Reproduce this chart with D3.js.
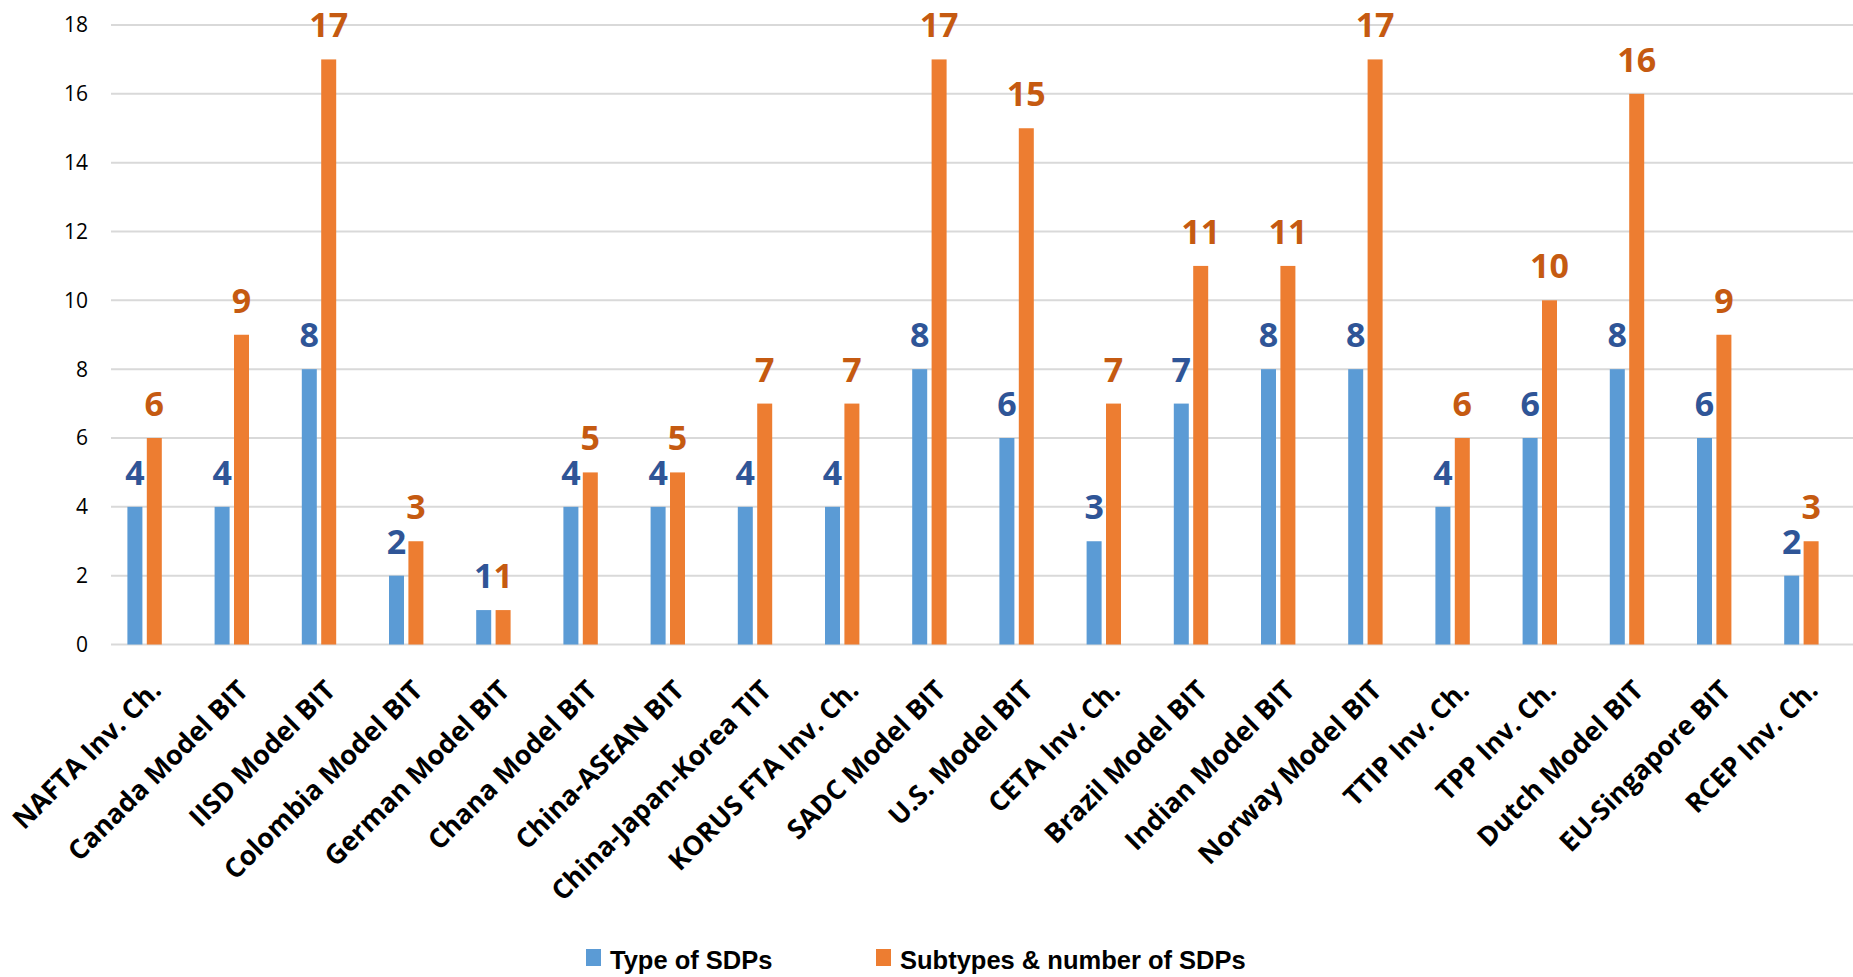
<!DOCTYPE html>
<html>
<head>
<meta charset="utf-8">
<script src="https://cdn.jsdelivr.net/npm/d3@7"></script>
<style>
  html, body { margin: 0; padding: 0; background: #fff; }
  svg { display: block; }
</style>
</head>
<body>
<svg id="chart" width="1853" height="977"></svg>
<script>
// Agreements / model treaties compared
const categories = [
  "NAFTA Inv. Ch.", "Canada Model BIT", "IISD Model BIT", "Colombia Model BIT",
  "German Model BIT", "Chana Model BIT", "China-ASEAN BIT", "China-Japan-Korea TIT",
  "KORUS FTA Inv. Ch.", "SADC Model BIT", "U.S. Model BIT", "CETA Inv. Ch.",
  "Brazil Model BIT", "Indian Model BIT", "Norway Model BIT", "TTIP Inv. Ch.",
  "TPP Inv. Ch.", "Dutch Model BIT", "EU-Singapore BIT", "RCEP Inv. Ch."
];
const seriesNames = ["Type of SDPs", "Subtypes & number of SDPs"];
const typeOfSDPs = [4, 4, 8, 2, 1, 4, 4, 4, 4, 8, 6, 3, 7, 8, 8, 4, 6, 8, 6, 2];
const subtypesSDPs = [6, 9, 17, 3, 1, 5, 5, 7, 7, 17, 15, 7, 11, 11, 17, 6, 10, 16, 9, 3];
const yTicks = [0, 2, 4, 6, 8, 10, 12, 14, 16, 18];

const barColors = ["#5B9BD5", "#ED7D31"];
const labelColors = ["#2F5597", "#C55A11"];
const seriesValues = [typeOfSDPs, subtypesSDPs];

const svg = d3.select("#chart");

const plotLeft = 111, plotRight = 1853;
const y = d3.scaleLinear().domain([0, 18]).range([644.5, 25]);

const x0 = d3.scaleBand().domain(categories).range([101, 1845]).padding(0);
const x1 = d3.scaleBand().domain(seriesNames).range([-17.2, 17.2]).paddingInner(0.227);

// Horizontal gridlines
svg.append("g")
  .selectAll("line")
  .data(yTicks)
  .join("line")
  .attr("x1", plotLeft).attr("x2", plotRight)
  .attr("y1", d => y(d)).attr("y2", d => y(d))
  .attr("stroke", "#D9D9D9")
  .attr("stroke-width", 2);

// Y axis tick labels
svg.append("g")
  .selectAll("text")
  .data(yTicks)
  .join("text")
  .attr("x", 88)
  .attr("y", d => y(d))
  .attr("dy", "0.35em")
  .attr("text-anchor", "end")
  .attr("font-family", "'Open Sans', sans-serif")
  .attr("font-size", 21)
  .attr("fill", "#000")
  .text(d => d);

// Bars and value labels
const groups = svg.append("g")
  .selectAll("g")
  .data(categories)
  .join("g")
  .attr("transform", d => `translate(${x0(d) + x0.bandwidth() / 2},0)`);

seriesNames.forEach((s, si) => {
  groups.append("rect")
    .attr("x", x1(s))
    .attr("width", x1.bandwidth())
    .attr("y", (d, i) => y(seriesValues[si][i]))
    .attr("height", (d, i) => y(0) - y(seriesValues[si][i]))
    .attr("fill", barColors[si]);
});

seriesNames.forEach((s, si) => {
  groups.append("text")
    .attr("x", x1(s) + x1.bandwidth() / 2)
    .attr("y", (d, i) => y(seriesValues[si][i]) - 22)
    .attr("text-anchor", "middle")
    .attr("font-family", "'Open Sans', sans-serif")
    .attr("font-weight", 700)
    .attr("font-size", 34)
    .attr("fill", labelColors[si])
    .text((d, i) => seriesValues[si][i]);
});

// Category labels, rotated
svg.append("g")
  .selectAll("text")
  .data(categories)
  .join("text")
  .attr("transform", d => `translate(${x0(d) + x0.bandwidth() / 2 + 18},692) rotate(-45)`)
  .attr("text-anchor", "end")
  .attr("font-family", "'Open Sans', sans-serif")
  .attr("font-weight", 700)
  .attr("font-size", 27)
  .attr("fill", "#000")
  .text(d => d);

// Legend
const legendItems = [
  { name: seriesNames[0], color: barColors[0], sx: 586, tx: 610 },
  { name: seriesNames[1], color: barColors[1], sx: 876, tx: 900 }
];
const legend = svg.append("g");
legend.selectAll("rect")
  .data(legendItems)
  .join("rect")
  .attr("x", d => d.sx).attr("y", 949)
  .attr("width", 15).attr("height", 17)
  .attr("fill", d => d.color);
legend.selectAll("text")
  .data(legendItems)
  .join("text")
  .attr("x", d => d.tx).attr("y", 969)
  .attr("font-family", "'Liberation Sans', Arial, sans-serif")
  .attr("font-weight", 700)
  .attr("font-size", 25.5)
  .attr("fill", "#000")
  .text(d => d.name);
</script>
</body>
</html>
